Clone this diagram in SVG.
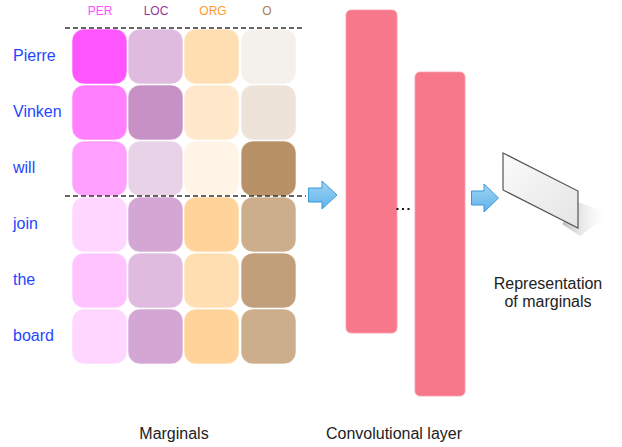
<svg xmlns="http://www.w3.org/2000/svg" width="622" height="447" viewBox="0 0 622 447">
<style>
text{font-family:"Liberation Sans",Arial,sans-serif}
.hd{font-size:12px;text-anchor:middle}
.w{font-size:16px;fill:#1f47ff}
.cap{font-size:16px;fill:#222}
.cell{stroke:#ffffff;stroke-opacity:0.6;stroke-width:1}
.conv{fill:#f7788a;stroke:#f9a0ad;stroke-width:0.8}
.dash{stroke:#333;stroke-width:1.5;stroke-dasharray:5 3;fill:none}
.arr{fill:url(#ag);stroke:#3a97d6;stroke-width:1}
.dot{fill:#111}
</style>
<defs>
<linearGradient id="ag" x1="0" y1="0" x2="0" y2="1"><stop offset="0" stop-color="#9fd4f6"/><stop offset="1" stop-color="#5fb2ea"/></linearGradient>
<linearGradient id="pg" x1="0" y1="0" x2="1" y2="1"><stop offset="0" stop-color="#fbfbfb"/><stop offset="1" stop-color="#e4e4e4"/></linearGradient>
<linearGradient id="sg" x1="0" y1="0" x2="1" y2="0"><stop offset="0" stop-color="#bdbdbd"/><stop offset="1" stop-color="#ffffff" stop-opacity="0"/></linearGradient>
</defs>

<g id="headers">
<text class="hd" x="100" y="15" fill="#ff4dff">PER</text>
<text class="hd" x="156" y="15" fill="#993399">LOC</text>
<text class="hd" x="213" y="15" fill="#ff9a33">ORG</text>
<text class="hd" x="267" y="15" fill="#a5805a">O</text>
</g>

<g id="words">
<text class="w" x="13" y="61">Pierre</text>
<text class="w" x="13" y="117">Vinken</text>
<text class="w" x="13" y="173">will</text>
<text class="w" x="13" y="229">join</text>
<text class="w" x="13" y="285">the</text>
<text class="w" x="13" y="341">board</text>
</g>

<g id="marginals">
<rect class="cell" x="72" y="29" width="55" height="55" rx="12" fill="#ff55ff"/>
<rect class="cell" x="128" y="29" width="55" height="55" rx="12" fill="#dfbcdf"/>
<rect class="cell" x="184" y="29" width="55" height="55" rx="12" fill="#ffdeb2"/>
<rect class="cell" x="241" y="29" width="55" height="55" rx="12" fill="#f4f0ec"/>

<rect class="cell" x="72" y="85" width="55" height="55" rx="12" fill="#ff7fff"/>
<rect class="cell" x="128" y="85" width="55" height="55" rx="12" fill="#c891c5"/>
<rect class="cell" x="184" y="85" width="55" height="55" rx="12" fill="#ffe8cc"/>
<rect class="cell" x="241" y="85" width="55" height="55" rx="12" fill="#ede3d9"/>

<rect class="cell" x="72" y="141" width="55" height="55" rx="12" fill="#ffa0ff"/>
<rect class="cell" x="128" y="141" width="55" height="55" rx="12" fill="#e8d2e8"/>
<rect class="cell" x="184" y="141" width="55" height="55" rx="12" fill="#fff4e6"/>
<rect class="cell" x="241" y="141" width="55" height="55" rx="12" fill="#b99167"/>

<rect class="cell" x="72" y="197" width="55" height="55" rx="12" fill="#ffd6ff"/>
<rect class="cell" x="128" y="197" width="55" height="55" rx="12" fill="#d4a6d4"/>
<rect class="cell" x="184" y="197" width="55" height="55" rx="12" fill="#ffd399"/>
<rect class="cell" x="241" y="197" width="55" height="55" rx="12" fill="#ccae8c"/>

<rect class="cell" x="72" y="253" width="55" height="55" rx="12" fill="#ffc4ff"/>
<rect class="cell" x="128" y="253" width="55" height="55" rx="12" fill="#dfbcdf"/>
<rect class="cell" x="184" y="253" width="55" height="55" rx="12" fill="#ffdeb2"/>
<rect class="cell" x="241" y="253" width="55" height="55" rx="12" fill="#c19f7a"/>

<rect class="cell" x="72" y="309" width="55" height="55" rx="12" fill="#ffd6ff"/>
<rect class="cell" x="128" y="309" width="55" height="55" rx="12" fill="#d4a6d4"/>
<rect class="cell" x="184" y="309" width="55" height="55" rx="12" fill="#ffd399"/>
<rect class="cell" x="241" y="309" width="55" height="55" rx="12" fill="#ccae8c"/>

<line class="dash" x1="65" y1="28" x2="304" y2="28"/>
<line class="dash" x1="65" y1="196" x2="306" y2="196"/>
</g>

<g id="conv1"><rect class="conv" x="346" y="10" width="51" height="323" rx="5"/></g>
<g id="conv2"><rect class="conv" x="415" y="72" width="50" height="324" rx="5"/></g>
<g id="ellipsis">
<rect class="dot" x="396.5" y="208" width="2" height="2"/>
<rect class="dot" x="402" y="208" width="2" height="2"/>
<rect class="dot" x="407.5" y="208" width="2" height="2"/>
</g>

<g id="representation">
<polygon points="578,202 610,214 580,236 562,224" fill="url(#sg)"/>
<polygon points="503,153 578,191 578,228 503,190" fill="url(#pg)" stroke="#555" stroke-width="1.2"/>
</g>

<g id="connectors">
<polygon class="arr" points="308.5,188 322,188 322,181 337,195 322,209 322,202 308.5,202"/>
<polygon class="arr" points="471.5,191 484,191 484,184 498.5,198 484,212 484,205 471.5,205"/>
</g>

<g id="captions">
<text class="cap" x="548" y="289" text-anchor="middle">Representation</text>
<text class="cap" x="548" y="307" text-anchor="middle">of marginals</text>
<text class="cap" x="174" y="439" text-anchor="middle">Marginals</text>
<text class="cap" x="394" y="439" text-anchor="middle">Convolutional layer</text>
</g>
</svg>
